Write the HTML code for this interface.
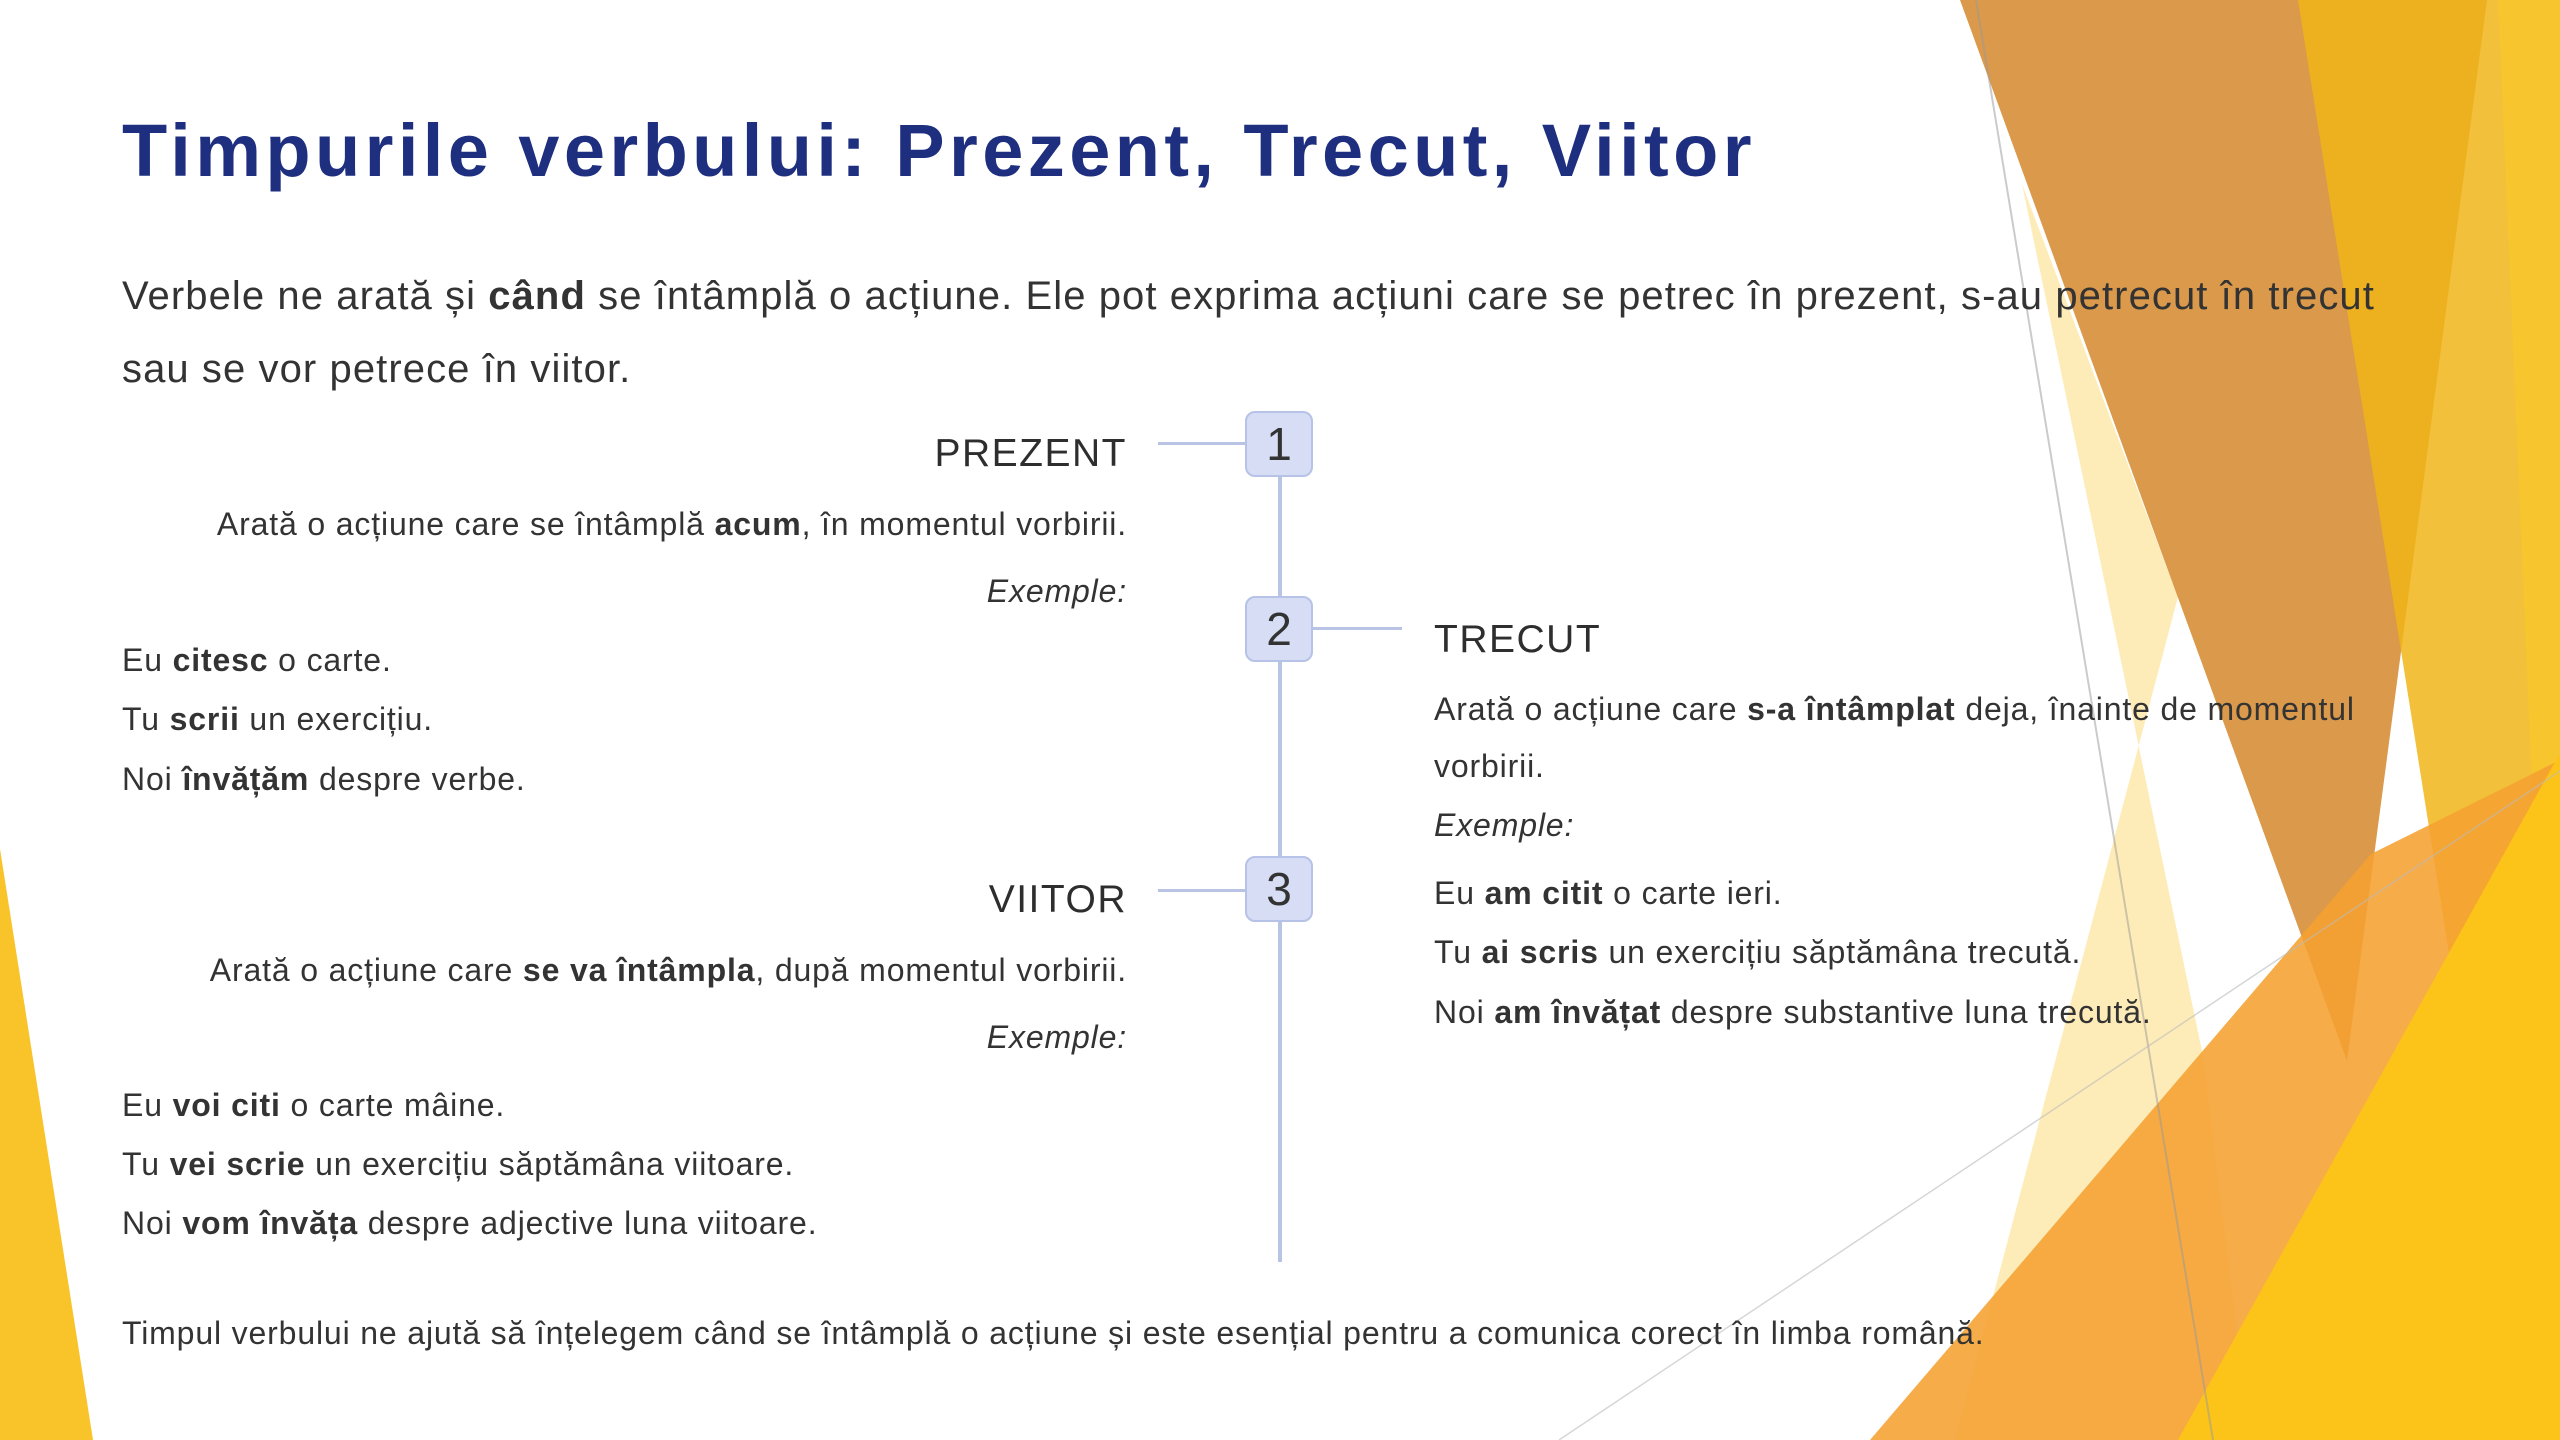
<!DOCTYPE html>
<html><head><meta charset="utf-8"><style>
html,body{margin:0;padding:0}
body{width:2560px;height:1440px;position:relative;overflow:hidden;background:#fff;font-family:"Liberation Sans",sans-serif;color:#333}
.t{position:absolute;white-space:nowrap;line-height:1}
.r{text-align:right}
.s{font-size:32px;letter-spacing:0.85px}
.h{font-size:39px;color:#2e2e2e;letter-spacing:1.5px}
i{font-style:italic}
.box{position:absolute;left:1245px;width:68px;height:66px;background:#d6ddf5;border:2px solid #b6c2e6;border-radius:10px;box-sizing:border-box;font-size:46px;text-align:center;line-height:62px;color:#333}
.ln{position:absolute;background:#b9c4e4}
</style></head><body>
<svg style="position:absolute;left:0;top:0" width="2560" height="1440">
<polygon points="2022,184 2203,1056 2250,1440 1955,1440 2178,597" fill="#fde6a0" opacity="0.75"/>
<polygon points="1960,0 2487,0 2347,1061" fill="#d4872c" opacity="0.85"/>
<polygon points="2298,0 2560,0 2560,1440 2526,1440" fill="#f0b519" opacity="0.85"/>
<polygon points="2498,0 2560,0 2560,1440" fill="#f8c62c" opacity="0.8"/>
<polygon points="1870,1440 2371,854 2560,760 2560,1440" fill="#f5a030" opacity="0.88"/>
<polygon points="2178,1440 2560,753 2560,1440" fill="#fcc419"/>
<polygon points="0,849 93,1440 0,1440" fill="#f9c32a"/>
<line x1="1976" y1="0" x2="2213" y2="1440" stroke="#999" stroke-width="2" opacity="0.5"/>
<line x1="1559" y1="1440" x2="2560" y2="771" stroke="#bbb" stroke-width="1.5" opacity="0.6"/>
</svg>
<div class="t" style="left:122px;top:114px;font-size:74px;font-weight:bold;color:#1f2f7f;letter-spacing:4.4px">Timpurile verbului: Prezent, Trecut, Viitor</div>
<div class="t" style="left:122px;top:276px;font-size:40px;letter-spacing:1.08px">Verbele ne arată și <b>când</b> se întâmplă o acțiune. Ele pot exprima acțiuni care se petrec în prezent, s-au petrecut în trecut</div>
<div class="t" style="left:122px;top:349px;font-size:40px;letter-spacing:1.08px">sau se vor petrece în viitor.</div>

<div class="ln" style="left:1278px;top:440px;width:4px;height:822px"></div>
<div class="ln" style="left:1158px;top:442px;width:88px;height:3px"></div>
<div class="ln" style="left:1312px;top:627px;width:90px;height:3px"></div>
<div class="ln" style="left:1158px;top:889px;width:88px;height:3px"></div>
<div class="box" style="top:411px">1</div>
<div class="box" style="top:596px">2</div>
<div class="box" style="top:856px">3</div>

<div class="t h r" style="right:1433px;top:434px">PREZENT</div>
<div class="t s r" style="right:1433px;top:508px">Arată o acțiune care se întâmplă <b>acum</b>, în momentul vorbirii.</div>
<div class="t s r" style="right:1433px;top:575px"><i>Exemple:</i></div>
<div class="t s" style="left:122px;top:644px">Eu <b>citesc</b> o carte.</div>
<div class="t s" style="left:122px;top:703px">Tu <b>scrii</b> un exercițiu.</div>
<div class="t s" style="left:122px;top:763px">Noi <b>învățăm</b> despre verbe.</div>

<div class="t h r" style="right:1433px;top:880px">VIITOR</div>
<div class="t s r" style="right:1433px;top:954px">Arată o acțiune care <b>se va întâmpla</b>, după momentul vorbirii.</div>
<div class="t s r" style="right:1433px;top:1021px"><i>Exemple:</i></div>
<div class="t s" style="left:122px;top:1089px">Eu <b>voi citi</b> o carte mâine.</div>
<div class="t s" style="left:122px;top:1148px">Tu <b>vei scrie</b> un exercițiu săptămâna viitoare.</div>
<div class="t s" style="left:122px;top:1207px">Noi <b>vom învăța</b> despre adjective luna viitoare.</div>

<div class="t h" style="left:1434px;top:620px">TRECUT</div>
<div class="t s" style="left:1434px;top:693px">Arată o acțiune care <b>s-a întâmplat</b> deja, înainte de momentul</div>
<div class="t s" style="left:1434px;top:750px">vorbirii.</div>
<div class="t s" style="left:1434px;top:809px"><i>Exemple:</i></div>
<div class="t s" style="left:1434px;top:877px">Eu <b>am citit</b> o carte ieri.</div>
<div class="t s" style="left:1434px;top:936px">Tu <b>ai scris</b> un exercițiu săptămâna trecută.</div>
<div class="t s" style="left:1434px;top:996px">Noi <b>am învățat</b> despre substantive luna trecută.</div>

<div class="t s" style="left:122px;top:1317px">Timpul verbului ne ajută să înțelegem când se întâmplă o acțiune și este esențial pentru a comunica corect în limba română.</div>
</body></html>
